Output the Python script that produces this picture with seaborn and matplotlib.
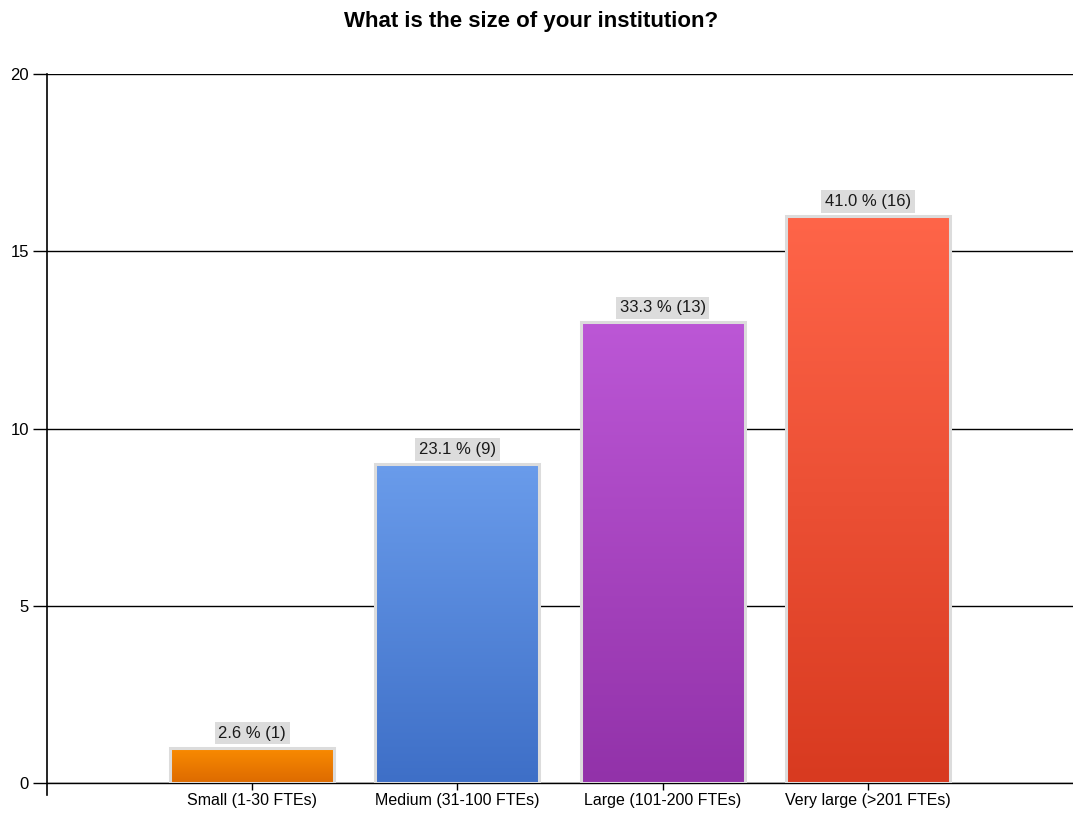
import matplotlib
matplotlib.use("Agg")
import matplotlib.pyplot as plt
import matplotlib.colors as mcolors
import numpy as np
import pandas as pd
import seaborn as sns

categories = ["Small (1-30 FTEs)", "Medium (31-100 FTEs)", "Large (101-200 FTEs)", "Very large (>201 FTEs)"]
counts = [1, 9, 13, 16]
percents = [2.6, 23.1, 33.3, 41.0]
top_colors = ["#FA8C00", "#6A9CEB", "#BC57D6", "#FF6549"]
bottom_colors = ["#DD6A00", "#3E6FC7", "#9232A9", "#D83A20"]
y_ticks = [0, 5, 10, 15, 20]
title = "What is the size of your institution?"

sns.set_theme(style="white")
plt.rcParams["font.family"] = ["Liberation Sans", "DejaVu Sans"]
plt.rcParams["text.color"] = "black"
plt.rcParams["xtick.color"] = "black"
plt.rcParams["ytick.color"] = "black"

fig = plt.figure(figsize=(10.73, 8.14), dpi=100)
ax = fig.add_axes([47 / 1073, 1 - 783 / 814, 1 - 47 / 1073, (783 - 74) / 814])

# empty slot in front of the first category
order = [""] + categories
df = pd.DataFrame({"cat": categories, "count": counts})
sns.barplot(data=df, x="cat", y="count", order=order, hue="cat", hue_order=order,
            palette=["white"] + top_colors, width=0.8, legend=False, ax=ax,
            edgecolor="#DCDCDC", linewidth=2.2, saturation=1, zorder=3)

ax.set_xlim(0, 5)
ax.set_ylim(0, 20)

# gradient fills inside each bar
patches = [p for p in ax.patches if p.get_height() > 0]
patches.sort(key=lambda p: p.get_x())
for p, tc, bc, pct, c in zip(patches, top_colors, bottom_colors, percents, counts):
    x0, w, h = p.get_x(), p.get_width(), p.get_height()
    cmap = mcolors.LinearSegmentedColormap.from_list("g", [bc, tc])
    grad = np.linspace(0, 1, 256).reshape(-1, 1)
    im = ax.imshow(grad, cmap=cmap, origin="lower", aspect="auto",
                   extent=[x0, x0 + w, 0, h], zorder=3.5)
    im.set_clip_path(p)
    ax.annotate(f"{pct:.1f} % ({c})", xy=(x0 + w / 2, h), xytext=(0, 5),
                textcoords="offset points", ha="center", va="bottom",
                fontsize=12, color="#1a1a1a", zorder=5,
                bbox=dict(boxstyle="square,pad=0.22", fc="#DCDCDC", ec="none"))
    p.set_zorder(4)
    p.set_facecolor("none")

ax.set_xlim(0, 5)
ax.set_yticks(y_ticks)
ax.set_yticklabels([str(v) for v in y_ticks], fontsize=12)
ax.set_xticks(range(1, len(order)))
ax.set_xticklabels(categories, fontsize=11.5)
ax.grid(axis="y", color="black", linewidth=1.0, zorder=1)
ax.set_axisbelow(True)
ax.tick_params(axis="y", which="both", left=True, length=10, width=1.0, color="black", pad=3)
ax.tick_params(axis="x", which="both", bottom=True, length=5, width=1.0, color="black", pad=2)
ax.set_xlabel("")
ax.set_ylabel("")

for s in ["top", "right"]:
    ax.spines[s].set_visible(False)
ax.spines["bottom"].set_color("black")
ax.spines["bottom"].set_linewidth(1.0)
ax.spines["left"].set_color("black")
ax.spines["left"].set_linewidth(1.2)
ax.spines["left"].set_bounds(-0.35, 20)

fig.suptitle(title, x=531 / 1073, y=1 - 21 / 814, va="center", fontsize=16, fontweight="bold")

fig.savefig("out.png", dpi=100)
